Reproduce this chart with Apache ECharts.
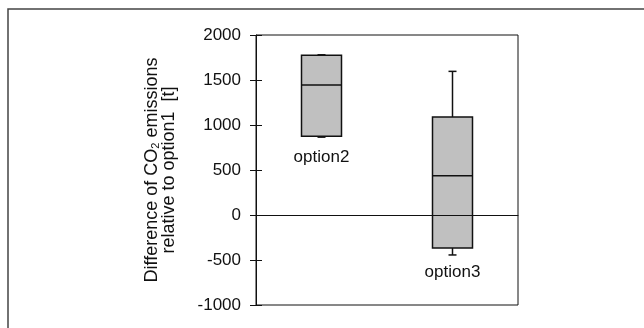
<!DOCTYPE html>
<html>
<head>
<meta charset="utf-8">
<script src="https://cdn.jsdelivr.net/npm/echarts@6/dist/echarts.min.js"></script>
<style>
  html, body { margin: 0; padding: 0; background: #fff; }
  #chart { width: 644px; height: 328px; }
</style>
</head>
<body>
<div id="chart"></div>
<script>
// 类别
var categories = ["option2", "option3"];
// [min, Q1, median, Q3, max]
var boxData = [
  [865, 874, 1444, 1774, 1780],
  [-444, -367, 437, 1089, 1596],
];
// 标签所在的数值位置
var labelY = [644, -637];
var yTicks = { min: -1000, max: 2000, interval: 500 };

var myChart = echarts.init(document.getElementById("chart"));

var boxSeriesData = boxData.map(function (d, i) {
  return [i].concat(d);
});
var labelData = labelY.map(function (v, i) {
  return [i, v];
});

var option = {
  animation: false,
  textStyle: { fontFamily: "Liberation Sans, Arial, sans-serif" },
  graphic: [
    {
      type: "polyline",
      shape: { points: [[8, 340], [8, 9], [660, 9]] },
      style: { stroke: "#444", lineWidth: 1.5, fill: null },
    },
  ],
  grid: {
    left: 256,
    right: 126,
    top: 35,
    bottom: 23,
    show: true,
    borderColor: "#111",
    borderWidth: 1,
    backgroundColor: "transparent",
  },
  xAxis: {
    type: "category",
    data: categories,
    z: 5,
    axisLine: { show: true, onZero: true, lineStyle: { color: "#111", width: 1 } },
    axisTick: { show: false },
    axisLabel: { show: false },
    splitLine: { show: false },
  },
  yAxis: [
    {
      type: "value",
      min: yTicks.min,
      max: yTicks.max,
      interval: yTicks.interval,
      name: "{n|Difference of CO}{sub|2}{n| emissions}\n{n|relative to option1  [t]}",
      nameLocation: "middle",
      nameRotate: 90,
      nameGap: 78,
      nameTextStyle: {
        color: "#111",
        fontSize: 18,
        align: "center",
        rich: {
          n: { fontSize: 18, lineHeight: 17, color: "#111" },
          sub: { fontSize: 11, lineHeight: 17, verticalAlign: "bottom", color: "#111" },
        },
      },
      axisLine: { show: true, lineStyle: { color: "#111", width: 1 } },
      axisTick: { show: true, length: 6, lineStyle: { color: "#111" } },
      axisLabel: {
        color: "#111",
        fontSize: 17,
        margin: 15,
        formatter: function (v) {
          return String(v);
        },
      },
      splitLine: { show: false },
    },
    {
      type: "value",
      position: "left",
      min: yTicks.min,
      max: yTicks.max,
      interval: yTicks.interval,
      axisLine: { show: false },
      axisTick: { show: true, inside: true, length: 6, lineStyle: { color: "#111" } },
      axisLabel: { show: false },
      splitLine: { show: false },
    },
  ],
  series: [
    {
      type: "custom",
      z: 2,
      data: boxSeriesData,
      renderItem: function (params, api) {
        var x = api.value(0);
        var pMin = api.coord([x, api.value(1)]);
        var pQ1 = api.coord([x, api.value(2)]);
        var pMed = api.coord([x, api.value(3)]);
        var pQ3 = api.coord([x, api.value(4)]);
        var pMax = api.coord([x, api.value(5)]);
        var half = 20;
        var cap = 4;
        var cx = pMed[0];
        var lineStyle = { stroke: "#111", lineWidth: 1.5 };
        return {
          type: "group",
          children: [
            { type: "line", shape: { x1: cx, y1: pQ3[1], x2: cx, y2: pMax[1] }, style: lineStyle },
            { type: "line", shape: { x1: cx, y1: pQ1[1], x2: cx, y2: pMin[1] }, style: lineStyle },
            { type: "line", shape: { x1: cx - cap, y1: pMax[1], x2: cx + cap, y2: pMax[1] }, style: lineStyle },
            { type: "line", shape: { x1: cx - cap, y1: pMin[1], x2: cx + cap, y2: pMin[1] }, style: lineStyle },
            {
              type: "rect",
              shape: { x: cx - half, y: pQ3[1], width: half * 2, height: pQ1[1] - pQ3[1] },
              style: { fill: "#c0c0c0", stroke: "#111", lineWidth: 1.5 },
            },
            { type: "line", shape: { x1: cx - half, y1: pMed[1], x2: cx + half, y2: pMed[1] }, style: lineStyle },
          ],
        };
      },
    },
    {
      type: "scatter",
      symbolSize: 0,
      data: labelData,
      silent: true,
      itemStyle: { color: "#111", opacity: 1 },
      label: {
        show: true,
        position: [0, 0],
        align: "center",
        verticalAlign: "middle",
        color: "#111",
        textBorderWidth: 0,
        fontSize: 17,
        formatter: function (p) {
          return categories[p.data[0]];
        },
      },
    },
  ],
};

myChart.setOption(option);
</script>
</body>
</html>
